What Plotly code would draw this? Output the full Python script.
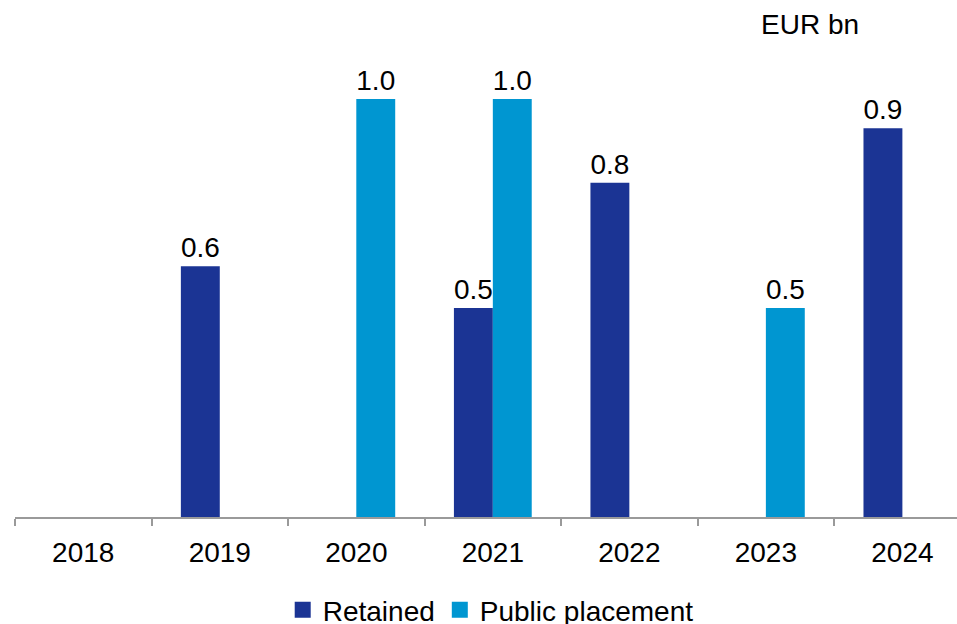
import plotly.graph_objects as go

years = ["2018", "2019", "2020", "2021", "2022", "2023", "2024"]
retained = [None, 0.6, None, 0.5, 0.8, None, 0.93]
public_placement = [None, None, 1.0, 1.0, None, 0.5, None]
series_names = ["Retained", "Public placement"]

FONT = "Liberation Sans"
FS = 28
C_RET = "#1b3494"
C_PUB = "#0096d1"

fig = go.Figure()
for name, vals, col in [(series_names[0], retained, C_RET),
                        (series_names[1], public_placement, C_PUB)]:
    fig.add_trace(go.Bar(
        x=years, y=vals, name=name, marker_color=col,
        marker_line_width=0, showlegend=False, legendgroup=name,
        text=[None if v is None else f"{v:.1f}" for v in vals],
        textposition="outside", cliponaxis=False,
        textfont=dict(family=FONT, size=FS, color="black"),
    ))
for name, col in [(series_names[0], C_RET), (series_names[1], C_PUB)]:
    fig.add_trace(go.Scatter(
        x=[None], y=[None], mode="markers", name=name, legendgroup=name,
        marker=dict(symbol="square", size=16, color=col, line_width=0),
        hoverinfo="skip",
    ))

fig.update_layout(
    width=957, height=624,
    margin=dict(l=15, r=0, t=0, b=107, autoexpand=False),
    paper_bgcolor="white", plot_bgcolor="white",
    barmode="group", bargap=0.43, bargroupgap=0,
    font=dict(family=FONT, size=FS, color="black"),
    showlegend=True,
    legend=dict(orientation="h", x=0.505, xanchor="center", y=-0.18, yanchor="middle",
                font=dict(family=FONT, size=FS, color="black"), itemwidth=30,
                traceorder="normal"),
    xaxis=dict(type="category", range=[-0.5, 6.4], showline=True, linecolor="#9a9a9a",
               linewidth=1.5, ticks="outside", tickson="boundaries", ticklen=7,
               tickcolor="#9a9a9a", tickwidth=1.5, showgrid=False, automargin=False,
               tickfont=dict(family=FONT, size=FS, color="black"),
               ticklabelstandoff=10),
    yaxis=dict(range=[0, 1.237], visible=False, showgrid=False, zeroline=False,
               automargin=False),
    annotations=[dict(text="EUR bn", xref="paper", yref="paper", x=0.844, y=0.952,
                      xanchor="center", yanchor="middle", showarrow=False,
                      font=dict(family=FONT, size=FS, color="black"))],
)

fig.write_html("out.html", config={"displayModeBar": False},
               post_script="document.body.style.margin='0';document.body.style.overflow='hidden';")
